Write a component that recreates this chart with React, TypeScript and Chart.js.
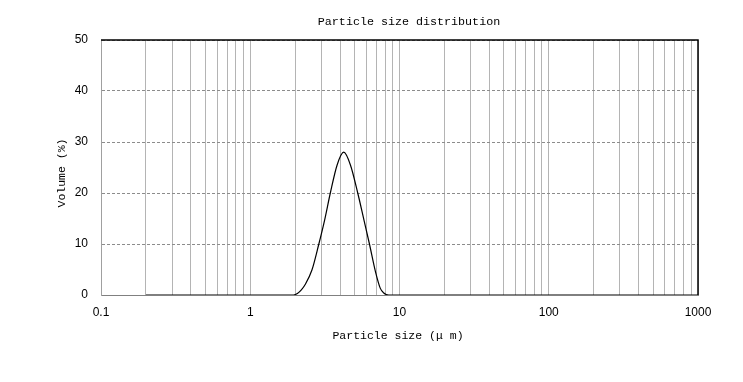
import React, { useEffect, useRef } from "react";
import { Chart, registerables } from "chart.js";
Chart.register(...registerables);

// particle sizes (µm) and volume (%)
const sizes = [0.2, 1.0, 1.95, 2.07, 2.2, 2.34, 2.59, 2.87, 3.15, 3.44, 3.82, 4.23, 4.69, 5.25, 5.78, 6.29, 6.9, 7.44, 7.85, 8.47, 10, 100, 1000];
const volumes = [0, 0, 0, 0.3, 1.0, 2.1, 4.9, 9.8, 14.7, 20, 25.5, 28, 25.5, 20, 14.7, 10, 4.6, 1.3, 0.4, 0, 0, 0, 0];

const yTicks = [0, 10, 20, 30, 40, 50];
const xMajorTicks = [0.1, 1, 10, 100, 1000];
const xGridTicks = [
  0.1, 0.2, 0.3, 0.4, 0.5, 0.6, 0.7, 0.8, 0.9,
  1, 2, 3, 4, 5, 6, 7, 8, 9,
  10, 20, 30, 40, 50, 60, 70, 80, 90,
  100, 200, 300, 400, 500, 600, 700, 800, 900,
  1000,
];

const titleText = "Particle size distribution";
const xTitle = "Particle size (μ m)";
const yTitle = "Volume (%)";

const MONO = "'Liberation Mono', 'DejaVu Sans Mono', monospace";
const SANS = "'Liberation Sans', Arial, sans-serif";

export default function App() {
  const ref = useRef<HTMLCanvasElement>(null);
  useEffect(() => {
    const decor = {
      id: "decor",
      afterDraw(chart: any) {
        const { ctx, chartArea } = chart;
        ctx.save();
        ctx.strokeStyle = "#000";
        ctx.lineWidth = 1.5;
        ctx.beginPath();
        ctx.moveTo(chartArea.left, chartArea.top);
        ctx.lineTo(chartArea.right, chartArea.top);
        ctx.lineTo(chartArea.right, chartArea.bottom);
        ctx.stroke();
        ctx.fillStyle = "#000";
        ctx.font = `11.7px ${MONO}`;
        ctx.textAlign = "center";
        ctx.textBaseline = "middle";
        ctx.fillText(titleText, 409, 22);
        ctx.font = `11.5px ${MONO}`;
        ctx.fillText(xTitle, 398, 336);
        ctx.translate(62, 173);
        ctx.rotate(-Math.PI / 2);
        ctx.fillText(yTitle, 0, 0);
        ctx.restore();
      },
    };
    const chart = new Chart(ref.current!, {
      type: "line",
      data: {
        datasets: [
          {
            data: sizes.map((s, i) => ({ x: s, y: volumes[i] })),
            borderColor: "#000",
            borderWidth: 1.2,
            pointRadius: 0,
            cubicInterpolationMode: "monotone",
            fill: false,
          },
        ],
      },
      options: {
        animation: false,
        responsive: false,
        layout: { padding: { top: 40, right: 45, left: 0, bottom: 0 } },
        plugins: {
          legend: { display: false },
          tooltip: { enabled: false },
          title: { display: false },
        },
        scales: {
          x: {
            type: "logarithmic",
            min: 0.1,
            max: 1000,
            afterBuildTicks: (s: any) => {
              s.ticks = xGridTicks.map((v) => ({ value: v }));
            },
            afterFit: (s: any) => {
              s.height = 87;
            },
            ticks: {
              autoSkip: false,
              maxRotation: 0,
              padding: 10,
              color: "#000",
              font: { family: SANS, size: 12 },
              callback: (v: any) => (xMajorTicks.includes(v) ? String(v) : ""),
            },
            grid: { color: "#b4b4b4", drawTicks: false, lineWidth: 1 },
            border: { color: "#808080" },
          },
          y: {
            min: 0,
            max: 50,
            afterBuildTicks: (s: any) => {
              s.ticks = yTicks.map((v) => ({ value: v }));
            },
            afterFit: (s: any) => {
              s.width = 101;
            },
            ticks: {
              padding: 13,
              color: "#000",
              font: { family: SANS, size: 12 },
            },
            grid: { color: "#8c8c8c", drawTicks: false, lineWidth: 1 },
            border: { color: "#a0a0a0", dash: [3, 2] },
          },
        },
      },
      plugins: [decor],
    } as any);
    return () => chart.destroy();
  }, []);
  return (
    <canvas
      ref={ref}
      width={743}
      height={382}
      style={{ position: "absolute", left: 0, top: 0, width: 743, height: 382 }}
    />
  );
}
